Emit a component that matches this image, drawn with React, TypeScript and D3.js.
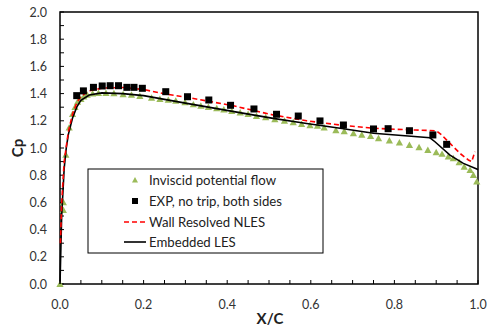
import React from 'react';
import * as d3 from 'd3';

// Inviscid potential flow (triangles)
const invX = [0, 0.008, 0.008, 0.014, 0.022, 0.03, 0.036, 0.042, 0.05, 0.057, 0.065, 0.078, 0.092, 0.11, 0.129, 0.151, 0.171, 0.191, 0.219, 0.239, 0.259, 0.277, 0.299, 0.319, 0.337, 0.355, 0.375, 0.392, 0.411, 0.431, 0.45, 0.47, 0.492, 0.514, 0.537, 0.558, 0.578, 0.598, 0.616, 0.632, 0.66, 0.68, 0.702, 0.722, 0.743, 0.762, 0.788, 0.812, 0.836, 0.859, 0.88, 0.9, 0.914, 0.929, 0.941, 0.955, 0.967, 0.981, 0.989, 0.997];
const invCp = [0, 0.544, 0.6, 0.95, 1.15, 1.25, 1.3, 1.34, 1.36, 1.377, 1.39, 1.4, 1.404, 1.404, 1.402, 1.395, 1.39, 1.382, 1.368, 1.36, 1.353, 1.346, 1.336, 1.32, 1.31, 1.3, 1.292, 1.282, 1.272, 1.26, 1.25, 1.235, 1.226, 1.211, 1.2, 1.189, 1.176, 1.167, 1.162, 1.15, 1.13, 1.123, 1.108, 1.096, 1.088, 1.071, 1.054, 1.039, 1.022, 1.005, 0.985, 0.968, 0.956, 0.936, 0.924, 0.895, 0.862, 0.838, 0.8, 0.752];

// EXP, no trip, both sides (squares)
const expX = [0.04, 0.056, 0.08, 0.101, 0.12, 0.14, 0.16, 0.177, 0.197, 0.253, 0.305, 0.356, 0.408, 0.464, 0.518, 0.57, 0.622, 0.678, 0.75, 0.785, 0.836, 0.892, 0.925];
const expCp = [1.385, 1.42, 1.446, 1.456, 1.458, 1.458, 1.446, 1.446, 1.439, 1.414, 1.377, 1.353, 1.314, 1.287, 1.248, 1.235, 1.199, 1.169, 1.14, 1.142, 1.127, 1.096, 1.027];

// Wall Resolved NLES (red dashed)
const nlesX = [0.001, 0.004, 0.01, 0.02, 0.03, 0.04, 0.05, 0.07, 0.1, 0.15, 0.2, 0.255, 0.3, 0.415, 0.51, 0.59, 0.67, 0.75, 0.8, 0.85, 0.9, 0.913, 0.933, 0.957, 0.977, 0.985, 0.99, 0.993];
const nlesCp = [0.3, 0.6, 0.9, 1.12, 1.25, 1.33, 1.38, 1.42, 1.44, 1.445, 1.43, 1.395, 1.375, 1.31, 1.243, 1.2, 1.169, 1.145, 1.138, 1.132, 1.127, 1.096, 1.034, 0.96, 0.912, 0.9, 0.948, 0.973];

// Embedded LES (black line)
const lesX = [0, 0.004, 0.01, 0.015, 0.02, 0.03, 0.04, 0.05, 0.07, 0.1, 0.15, 0.2, 0.3, 0.43, 0.51, 0.59, 0.67, 0.75, 0.885, 0.897, 0.933, 0.965, 0.997, 1.0];
const lesCp = [0, 0.5, 0.85, 1.0, 1.1, 1.22, 1.3, 1.35, 1.39, 1.405, 1.4, 1.385, 1.33, 1.26, 1.218, 1.18, 1.145, 1.108, 1.075, 1.046, 0.948, 0.887, 0.846, 0.84];

const yTicks = [0, 0.2, 0.4, 0.6, 0.8, 1.0, 1.2, 1.4, 1.6, 1.8, 2.0];
const xTicks = [0, 0.2, 0.4, 0.6, 0.8, 1.0];
const legendLabels = ['Inviscid potential flow', 'EXP, no trip, both sides', 'Wall Resolved NLES', 'Embedded LES'];

const W = 491;
const H = 327;
const left = 60;
const right = 478;
const top = 12;
const bottom = 284;
const font = 'Lato, "Open Sans", sans-serif';
const green = '#9bbb59';

const x = d3.scaleLinear().domain([0, 1]).range([left, right]);
const y = d3.scaleLinear().domain([0, 2]).range([bottom, top]);

const zip = (xs: number[], ys: number[]) => xs.map((v, i) => [v, ys[i]] as [number, number]);
const line = d3.line<[number, number]>().x(d => x(d[0])).y(d => y(d[1]));

const tri = (cx: number, cy: number, s = 3.6) =>
  `M${cx},${cy - s} L${cx + s},${cy + s * 0.8} L${cx - s},${cy + s * 0.8} Z`;

export default function App() {
  const minorY = d3.range(0, 2.0001, 0.1);
  const minorX = d3.range(0, 1.0001, 0.05);
  const legX = 88;
  const legY = 169;
  const legRows = [180, 201, 222, 242];
  return (
    <svg width={W} height={H} style={{ position: 'absolute', left: 0, top: 0 }} fontFamily={font}>
      <rect x={0} y={0} width={W} height={H} fill="#fff" />
      {/* frame */}
      <rect x={left} y={top} width={right - left} height={bottom - top} fill="none" stroke="#000" strokeWidth={1.5} />
      {minorY.map(v => (
        <line key={'ym' + v} x1={left} x2={left + 4} y1={y(v)} y2={y(v)} stroke="#000" strokeWidth={1} />
      ))}
      {minorX.map(v => (
        <line key={'xm' + v} x1={x(v)} x2={x(v)} y1={bottom} y2={bottom - 4} stroke="#000" strokeWidth={1} />
      ))}
      {yTicks.map(v => (
        <text key={'yt' + v} x={47} y={y(v) + 4.5} textAnchor="end" fontSize={12.5} fill="#333">{v.toFixed(1)}</text>
      ))}
      {xTicks.map(v => (
        <text key={'xt' + v} x={x(v)} y={309} textAnchor="middle" fontSize={12.5} fill="#333">{v.toFixed(1)}</text>
      ))}
      <text x={270} y={324} textAnchor="middle" fontSize={15} fontWeight="bold" fill="#222">X/C</text>
      <text transform="translate(23,148) rotate(-90)" textAnchor="middle" fontSize={15} fontWeight="bold" fill="#222">Cp</text>

      {/* inviscid triangles */}
      {zip(invX, invCp).map((d, i) => (
        <path key={'inv' + i} d={tri(x(d[0]), y(d[1]))} fill={green} />
      ))}
      {/* LES */}
      <path d={line(zip(lesX, lesCp)) || ''} fill="none" stroke="#000" strokeWidth={1.6} />
      {/* NLES */}
      <path d={line(zip(nlesX, nlesCp)) || ''} fill="none" stroke="#ff0000" strokeWidth={1.6} strokeDasharray="5,3" />
      {/* EXP squares */}
      {zip(expX, expCp).map((d, i) => (
        <rect key={'exp' + i} x={x(d[0]) - 3.5} y={y(d[1]) - 3.5} width={7} height={7} fill="#000" />
      ))}

      {/* legend */}
      <rect x={legX} y={legY} width={323 - legX} height={253 - legY} fill="#fff" stroke="#000" strokeWidth={1} />
      <path d={tri(135, legRows[0], 3)} fill={green} />
      <rect x={132} y={legRows[1] - 3} width={6} height={6} fill="#000" />
      <line x1={124} x2={146} y1={legRows[2]} y2={legRows[2]} stroke="#ff0000" strokeWidth={1.6} strokeDasharray="5,3" />
      <line x1={124} x2={146} y1={legRows[3]} y2={legRows[3]} stroke="#000" strokeWidth={1.6} />
      {legendLabels.map((t, i) => (
        <text key={t} x={149} y={legRows[i] + 4.5} fontSize={13.2} fill="#222">{t}</text>
      ))}
    </svg>
  );
}
